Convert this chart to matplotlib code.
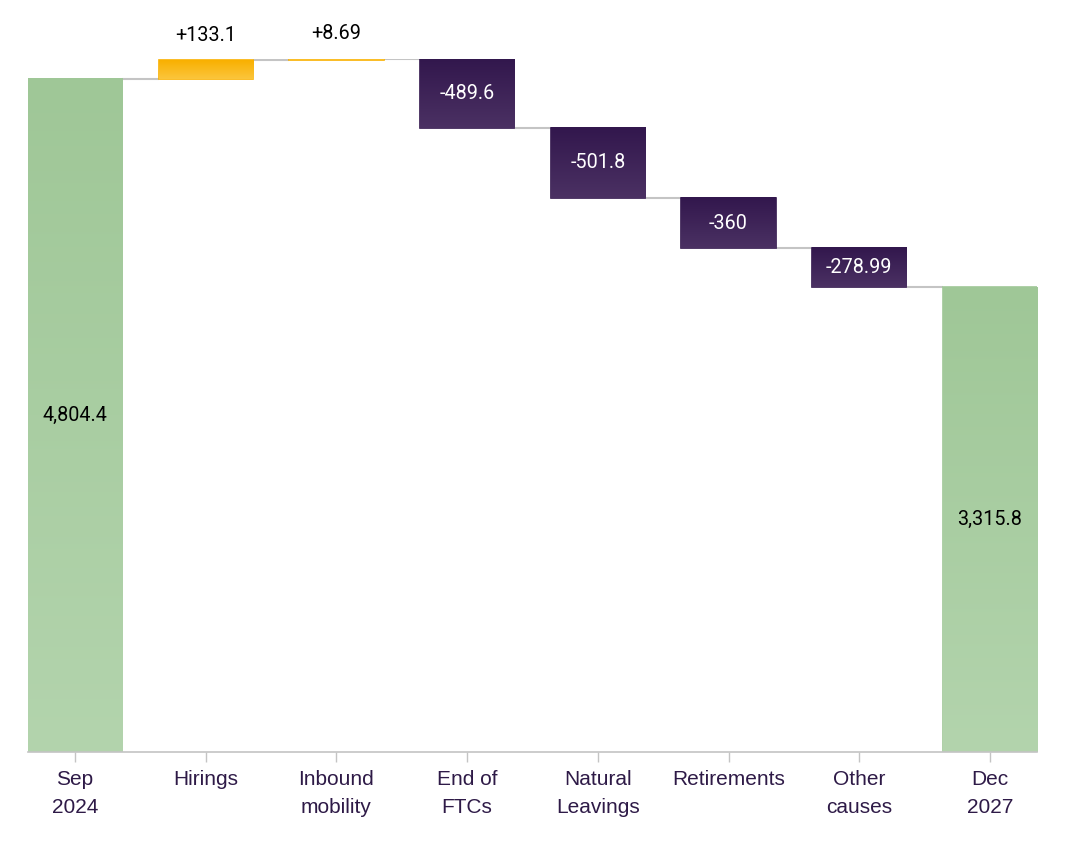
import numpy as np
import matplotlib
matplotlib.use('Agg')
from matplotlib import pyplot as plt
from matplotlib.colors import LinearSegmentedColormap

categories = ['Sep\n2024', 'Hirings', 'Inbound\nmobility', 'End of\nFTCs',
              'Natural\nLeavings', 'Retirements', 'Other\ncauses', 'Dec\n2027']
start_value = 4804.4
changes = [133.1, 8.69, -489.6, -501.8, -360, -278.99]
end_value = 3315.8
change_labels = ['+133.1', '+8.69', '-489.6', '-501.8', '-360', '-278.99']
total_labels = ['4,804.4', '3,315.8']

# colours (top, bottom) for the vertical gradients
green = ('#9fc797', '#b3d4ad')
orange = ('#f9b000', '#fbc53c')
purple = ('#32174d', '#4b3163')
label_color = '#2e1a47'
grey = '#c4c4c4'

# running levels
levels = np.concatenate([[start_value], start_value + np.cumsum(changes)])
bottoms = [0]
heights = [start_value]
for i, c in enumerate(changes):
    lo = min(levels[i], levels[i + 1])
    bottoms.append(lo)
    heights.append(abs(c))
bottoms.append(0)
heights.append(end_value)

x = np.arange(len(categories))
width = 0.72

fig = plt.figure(figsize=(10.66, 8.52), dpi=100)
ax = fig.add_axes([28 / 1066, 100 / 852, (1037 - 28) / 1066, (752 - 59) / 852])

bar_cols = []
for i in range(len(categories)):
    if i == 0 or i == len(categories) - 1:
        bar_cols.append(green)
    elif changes[i - 1] > 0:
        bar_cols.append(orange)
    else:
        bar_cols.append(purple)

bars = ax.bar(x, heights, width, bottom=bottoms,
              color=[c[0] for c in bar_cols], edgecolor=[c[0] for c in bar_cols],
              linewidth=1.2, zorder=2)

def gradient_fill(patch, cols):
    cmap = LinearSegmentedColormap.from_list('g', [cols[1], cols[0]])
    x0, y0 = patch.get_x(), patch.get_y()
    w, h = patch.get_width(), patch.get_height()
    grad = np.linspace(0, 1, 256).reshape(-1, 1)
    ax.imshow(grad, cmap=cmap, origin='lower', aspect='auto',
              extent=[x0, x0 + w, y0, y0 + h], zorder=2.5, interpolation='bicubic')

for b, cols in zip(bars, bar_cols):
    gradient_fill(b, cols)

# connector lines
for i in range(len(categories) - 1):
    lvl = levels[i] if i < len(levels) else end_value
    ax.plot([x[i] + width / 2, x[i + 1] - width / 2], [lvl, lvl],
            color=grey, lw=1.5, zorder=1, solid_capstyle='butt')

# value labels
vfont = dict(family='Roboto', fontsize=14.2)
ax.text(x[0], start_value / 2, total_labels[0], ha='center', va='center',
        color='black', zorder=3, **vfont)
ax.text(x[-1], end_value / 2, total_labels[1], ha='center', va='center',
        color='black', zorder=3, **vfont)
for i, c in enumerate(changes):
    b = bars[i + 1]
    if c > 0:
        ax.annotate(change_labels[i], (x[i + 1], b.get_y() + b.get_height()),
                    xytext=(0, 18), textcoords='offset points',
                    ha='center', va='center', color='black', zorder=3, **vfont)
    else:
        ax.text(x[i + 1], b.get_y() + b.get_height() / 2, change_labels[i],
                ha='center', va='center', color='white', zorder=3, **vfont)

ax.set_xlim(-width / 2, len(categories) - 1 + width / 2)
ax.set_ylim(0, levels[2])
ax.set_xticks(x)
ax.set_xticklabels(categories, family='Liberation Sans', fontsize=15,
                   color=label_color, linespacing=1.6)
ax.tick_params(axis='x', length=7, width=1, color=grey, pad=6)
ax.set_yticks([])
for s in ['top', 'right', 'left']:
    ax.spines[s].set_visible(False)
ax.spines['bottom'].set_color(grey)
ax.spines['bottom'].set_linewidth(1.2)

fig.savefig('out.png', dpi=100)
